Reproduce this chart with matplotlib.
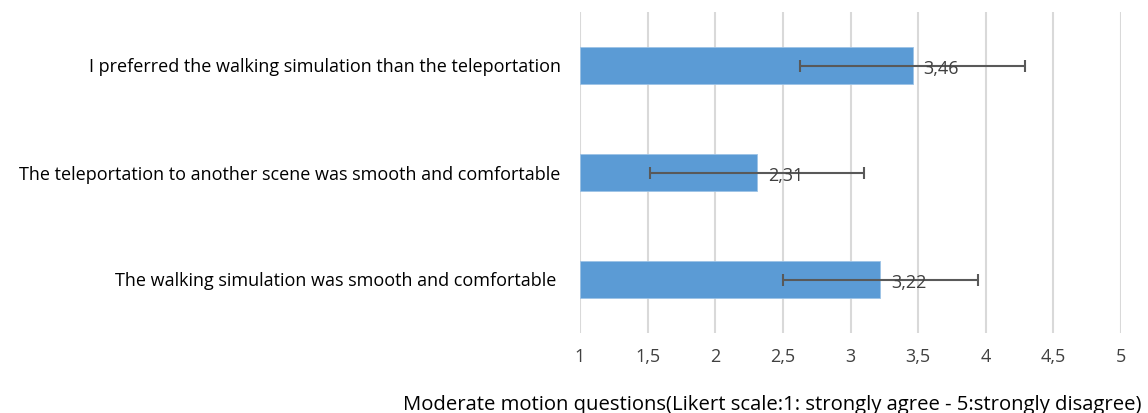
import matplotlib
matplotlib.use("Agg")
import matplotlib.pyplot as plt

categories = [
    "The walking simulation was smooth and comfortable ",
    "The teleportation to another scene was smooth and comfortable",
    "I preferred the walking simulation than the teleportation",
]
means = [3.22, 2.31, 3.46]
errors = [0.72, 0.79, 0.83]
tick_values = [1, 1.5, 2, 2.5, 3, 3.5, 4, 4.5, 5]
tick_labels = ["1", "1,5", "2", "2,5", "3", "3,5", "4", "4,5", "5"]
xlabel = "Moderate motion questions(Likert scale:1: strongly agree - 5:strongly disagree)"

plt.rcParams['font.family'] = ['Open Sans', 'DejaVu Sans']

fig = plt.figure(figsize=(11.48, 4.13), dpi=100)
ax = fig.add_axes([580/1148, 1-333/413, (1121-580)/1148, (333-12)/413])

y = list(range(len(categories)))
widths = [m - 1 for m in means]
ax.barh(y, widths, left=1, height=0.35, color="#5B9BD5", edgecolor="#9DC3E6", linewidth=0.6, zorder=2)
ax.errorbar(means, y, xerr=errors, fmt="none", ecolor="#595959", elinewidth=1.5, capsize=4, capthick=1.5, zorder=3)
for yi, m in zip(y, means):
    ax.text(m + 0.08, yi - 0.03, f"{m:.2f}".replace(".", ","), va="center", ha="left",
            fontsize=13, color="#404040", zorder=4)

ax.set_xlim(1, 5)
ax.set_ylim(-0.5, 2.5)
ax.set_xticks(tick_values)
ax.set_xticklabels(tick_labels, fontsize=13, color="#404040")
ax.set_yticks(y)
ax.set_yticklabels(categories, fontsize=13, color="#000000")
ax.tick_params(axis="both", length=0)
ax.tick_params(axis="x", pad=11)
ax.tick_params(axis="y", pad=14)
ax.xaxis.grid(True, color="#D9D9D9", linewidth=1.5, zorder=0)
ax.set_axisbelow(True)
for s in ax.spines.values():
    s.set_visible(False)

fig.text(403/1148, 1-405/413, xlabel, ha="left", va="center", fontsize=14.6, color="#000000")

fig.savefig("out.png", dpi=100, facecolor="white")
